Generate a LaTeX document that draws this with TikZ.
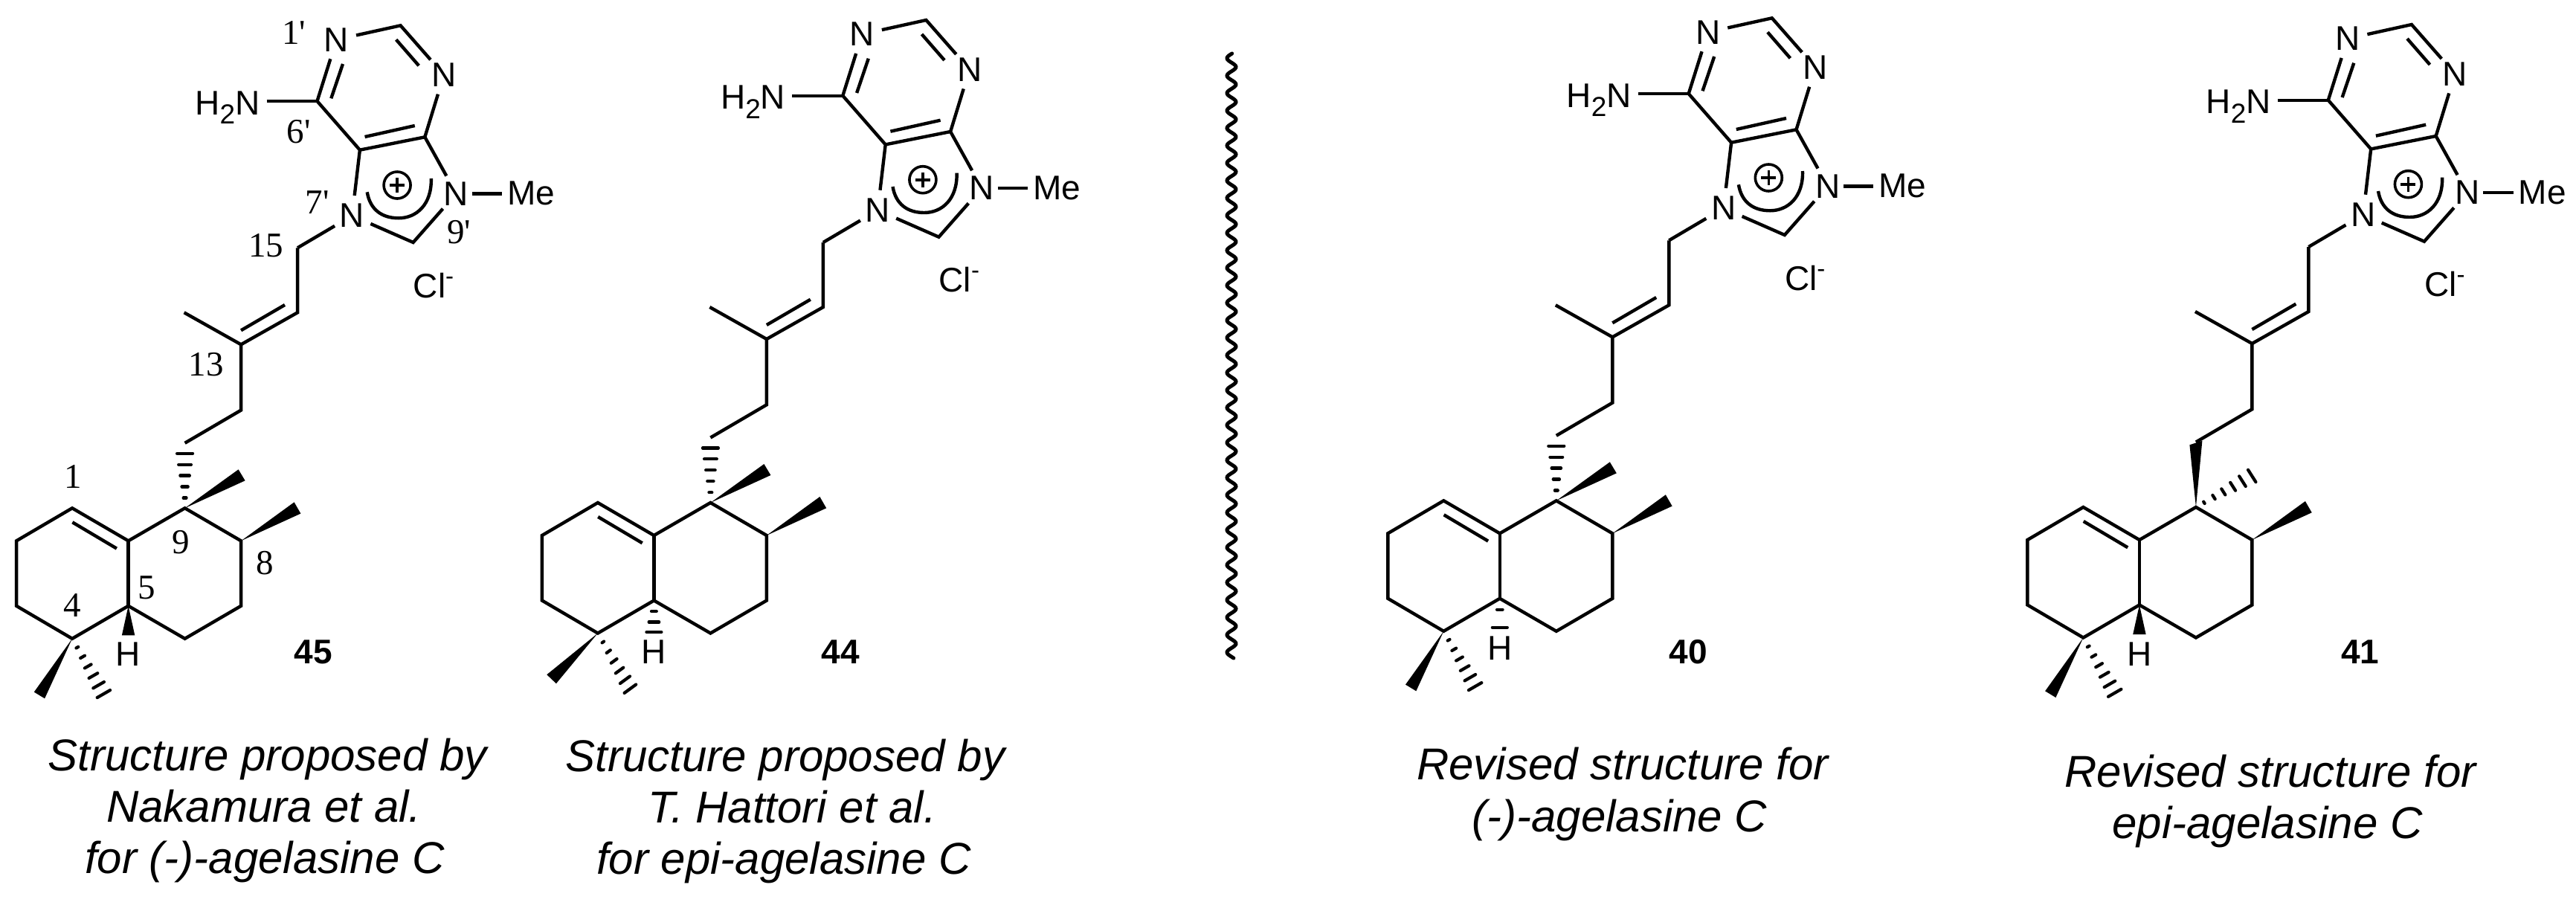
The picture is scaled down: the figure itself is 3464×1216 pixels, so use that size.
\documentclass[tikz,border=0pt]{standalone}
\usepackage{fontspec}
\setmainfont{Liberation Sans}
\newfontfamily\numfont{Liberation Serif}
\usetikzlibrary{calc}
\tikzset{
  x=1pt,y=-1pt,
  bond/.style={draw=black,line width=4.4pt},
  hashbar/.style={draw=black,line width=4.2pt,line cap=round},
  wedgefill/.style={fill=black,draw=none},
  atom/.style={circle,inner sep=0pt,minimum size=54pt,font=\fontsize{46}{50}\selectfont},
  lbl/.style={inner sep=0pt,font=\fontsize{46}{50}\selectfont},
  num/.style={inner sep=0pt,font=\fontsize{47}{50}\selectfont\numfont},
  boldlbl/.style={inner sep=0pt,font=\fontsize{46}{50}\selectfont\bfseries},
  captxt/.style={inner sep=0pt,anchor=base,font=\fontsize{60}{66}\selectfont\itshape},
}
% hashed bond: from apex #1 toward #2, half bar at the far end (#3,#4), stops #5
\newcommand{\HashBars}[5]{%
  \foreach \t in {#5}{%
    \draw[hashbar] ($(#1)!\t!(#2)+(\t*#3,\t*#4)$) -- ($(#1)!\t!(#2)-(\t*#3,\t*#4)$);
  }%
}
% #1 #2 position of ring fusion atom b, #3 prefix, #4 extra drawing
\newcommand{\Mol}[4]{%
\begin{scope}[shift={(#1,#2)},name prefix=#3-]
  \coordinate (b) at (0,0);
  \coordinate (a) at (-75.5,-44);
  \coordinate (f) at (-150.5,0);
  \coordinate (e) at (-150.5,87.5);
  \coordinate (d) at (-75.5,131.5);
  \coordinate (c) at (0,87.5);
  \coordinate (g) at (76,-44);
  \coordinate (h) at (151.5,0);
  \coordinate (i) at (151.5,87.5);
  \coordinate (j) at (76,131.5);
  \coordinate (ai) at (-75.2,-25);
  \coordinate (bi) at (-15.7,10.3);
  \coordinate (c1) at (76,-131.5);
  \coordinate (c2) at (151.5,-175.7);
  \coordinate (c3) at (151.5,-264);
  \coordinate (me13) at (75,-307);
  \coordinate (c4) at (227.5,-307);
  \coordinate (c3i) at (151.5,-283);
  \coordinate (c4i) at (210.4,-317.3);
  \coordinate (c5) at (227.5,-394);
  \coordinate (w2a) at (223,-52);
  \coordinate (w2b) at (231.8,-36.7);
  \coordinate (c8) at (383,-401.3);
  \coordinate (c4p) at (398.7,-543);
  \coordinate (c5p) at (311.3,-525.6);
  \coordinate (c6p) at (253.9,-591.3);
  \coordinate (c2p) at (366,-693);
  \coordinate (c6i) at (272.7,-595);
  \coordinate (n1i) at (288.4,-641.3);
  \coordinate (c2i) at (360.1,-674);
  \coordinate (n3i) at (390.6,-639);
  \coordinate (c5i) at (318,-543.3);
  \coordinate (c4i2) at (385.2,-558.3);
  \coordinate (arcA) at (321.1,-469);
  \coordinate (arcB) at (363.4,-434);
  \coordinate (arcC) at (407.2,-487.3);
  \coordinate (plus) at (361.5,-478.3);
  \node[atom] (n1) at (279.9,-674) {N};
  \node[atom] (n3) at (424.3,-626.6) {N};
  \node[atom] (n7) at (300.9,-437.3) {N};
  \node[atom] (n9) at (440.9,-467) {N};
  \node[lbl,inner sep=7pt] (me) at (541.8,-467) {Me};
  \node[lbl,anchor=base east,inner sep=9pt] (h2n) at (186,-573.3) {H\raisebox{-12.7pt}{\fontsize{37}{40}\selectfont 2}N};
  \node[lbl,anchor=base west] (cl) at (383,-327.3) {Cl\raisebox{18pt}{\fontsize{33}{36}\selectfont -}};
  % carbocycles
  \draw[bond] (f)--(a)--(b)--(g)--(h)--(i)--(j)--(c)--(d)--(e)--cycle;
  \draw[bond] (b)--(c);
  \draw[bond] (ai)--(bi);
  \fill[wedgefill] (h)--(w2a)--(w2b)--cycle;
  % side chain
  \draw[bond] (c1)--(c2)--(c3)--(me13);
  \draw[bond] (c3)--(c4)--(c5);
  \draw[bond] (c3i)--(c4i);
  \draw[bond] (c5)--(n7);
  % purinium
  \draw[bond] (n1)--(c2p)--(n3);
  \draw[bond] (n3)--(c4p)--(n9);
  \draw[bond] (n1)--(c6p)--(c5p)--(n7);
  \draw[bond] (c5p)--(c4p);
  \draw[bond] (n7)--(c8)--(n9);
  \draw[bond,shorten <=-6pt] (n9)--(me);
  \draw[bond] (c6p -| h2n.east)--(c6p);
  \draw[bond] (n1i)--(c6i);
  \draw[bond] (c2i)--(n3i);
  \draw[bond] (c5i)--(c4i2);
  \draw[bond] (arcA) .. controls ($(arcA)+(4,24)$) and ($(arcB)+(-22,0)$) .. (arcB)
              .. controls ($(arcB)+(24,0)$) and ($(arcC)+(1,35)$) .. (arcC);
  \draw[line width=3.6pt] (plus) circle[radius=18pt];
  \draw[line width=3.6pt] ($(plus)+(-10,0)$)--($(plus)+(10,0)$);
  \draw[line width=3.6pt] ($(plus)+(0,-10)$)--($(plus)+(0,10)$);
  #4
\end{scope}}
% quaternary C-4 substituents, two geometries
\newcommand{\DSubsA}{%
  \coordinate (dw1) at ($(d)+(-51.3,71.8)$);
  \coordinate (dw2) at ($(d)+(-37,80.5)$);
  \coordinate (dh) at ($(d)+(42.3,74.3)$);
  \fill[wedgefill] (d)--(dw1)--(dw2)--cycle;
  \HashBars{d}{dh}{8.7}{-5}{0.16,0.33,0.5,0.67,0.84,1}}
\newcommand{\GSubsUp}{%
  \coordinate (w1a) at (148,-96);
  \coordinate (w1b) at (157,-81);
  \fill[wedgefill] (g)--(w1a)--(w1b)--cycle;
  \HashBars{g}{c1}{12.5}{0}{0.157,0.33,0.5,0.67,0.84}}
\begin{document}
\begin{tikzpicture}
\useasboundingbox (0,0) rectangle (3464,1216);
% 45
\Mol{172.6}{727.3}{m1}{%
  \DSubsA \GSubsUp
  \coordinate (hw1) at (-8.7,127);
  \coordinate (hw2) at (8.7,127);
  \fill[wedgefill] (c)--(hw1)--(hw2)--cycle;
  \node[lbl] (hl) at (0,152.7) {H};
  \node[num] (l1p) at (222.4,-683.3) {1'};
  \node[num] (l6p) at (229.2,-550.6) {6'};
  \node[num] (l7p) at (253.9,-455.6) {7'};
  \node[num] (l9p) at (444.4,-415.6) {9'};
  \node[num] (l15) at (185.2,-397.3) {15};
  \node[num] (l13) at (104.4,-237.3) {13};
  \node[num] (l1) at (-74.8,-86.3) {1};
  \node[num] (l9) at (70.4,2) {9};
  \node[num] (l8) at (183.9,29.4) {8};
  \node[num] (l5) at (24.7,62.7) {5};
  \node[num] (l4) at (-75.7,86.7) {4};
}
% 44
\Mol{879.4}{720}{m2}{%
  \GSubsUp
  \coordinate (dw1) at ($(d)+(-68.6,55.7)$);
  \coordinate (dw2) at ($(d)+(-56,67.7)$);
  \coordinate (dh) at ($(d)+(43.5,74.7)$);
  \fill[wedgefill] (d)--(dw1)--(dw2)--cycle;
  \HashBars{d}{dh}{7.8}{-5.7}{0.16,0.33,0.5,0.67,0.84,1}
  \coordinate (hh) at (0,130);
  \HashBars{c}{hh}{10}{0}{0.34,0.68,1}
  \node[lbl] (hl) at (0,156.3) {H};
}
% 40
\Mol{2016.8}{717.3}{m3}{%
  \DSubsA \GSubsUp
  \coordinate (hh) at (0,126.5);
  \HashBars{c}{hh}{10}{0}{0.38,1}
  \node[lbl] (hl) at (0,154.3) {H};
}
% 41
\Mol{2876.9}{726}{m4}{%
  \DSubsA
  \coordinate (w1a) at ($(g)+(-8.5,-83.7)$);
  \coordinate (w1b) at ($(g)+(8.5,-89.3)$);
  \fill[wedgefill] (g)--(w1a)--(w1b)--cycle;
  \coordinate (gh) at ($(g)+(75.3,-42)$);
  \HashBars{g}{gh}{5.2}{8.2}{0.146,0.32,0.49,0.66,0.83,1}
  \coordinate (hw1) at (-8.7,127);
  \coordinate (hw2) at (8.7,127);
  \fill[wedgefill] (c)--(hw1)--(hw2)--cycle;
  \node[lbl] (hl) at (0,153.7) {H};
}
% compound numbers
\node[boldlbl] (n45) at (421.5,876.7) {45};
\node[boldlbl] (n44) at (1130.5,876.7) {44};
\node[boldlbl] (n40) at (2270,876.7) {40};
\node[boldlbl] (n41) at (3173.8,876.7) {41};
% wavy divider
\draw[line width=5pt,line cap=round] plot[domain=72:885,samples=600,variable=\yy] ({1656-6*cos(15.32*(\yy-78.3))},\yy);
% captions
\node[captxt] (t1a) at (359.5,1036) {Structure proposed by};
\node[captxt] (t1b) at (355,1105) {Nakamura et al.};
\node[captxt] (t1c) at (356,1174) {for (-)-agelasine C};
\node[captxt] (t2a) at (1056,1037) {Structure proposed by};
\node[captxt] (t2b) at (1065,1106) {T. Hattori et al.};
\node[captxt] (t2c) at (1054,1175) {for epi-agelasine C};
\node[captxt] (t3a) at (2182,1048.7) {Revised structure for};
\node[captxt] (t3b) at (2178,1118) {(-)-agelasine C};
\node[captxt] (t4a) at (3053,1058.7) {Revised structure for};
\node[captxt] (t4b) at (3049,1127.5) {epi-agelasine C};
\end{tikzpicture}
\end{document}
